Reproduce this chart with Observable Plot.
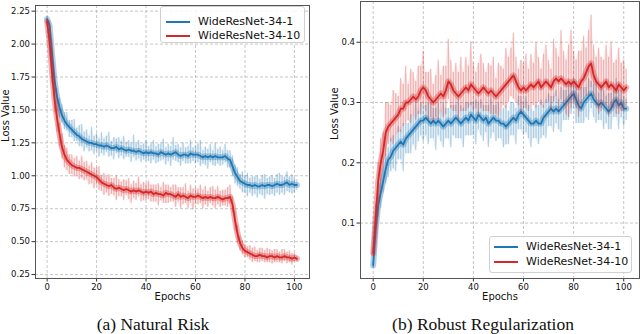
<!DOCTYPE html>
<html>
<head>
<meta charset="utf-8">
<script src="https://cdn.jsdelivr.net/npm/d3@7"></script>
<script src="https://cdn.jsdelivr.net/npm/@observablehq/plot@0.6"></script>
<style>
  body { margin: 0; background: #fff; }
  #wrap { position: relative; width: 640px; height: 334px; font-family: "DejaVu Sans", sans-serif; }
  .panel { position: absolute; top: 0; }
  .legend { position: absolute; background: rgba(255,255,255,0.85); border: 1px solid #d0d0d0; border-radius: 3px; box-sizing: border-box; }
  .legend .row { position: absolute; left: 0; height: 14px; font-size: 11px; line-height: 14px; color: #111; white-space: nowrap; }
  .legend .sw { position: absolute; top: 6px; height: 2px; }
  .caption { position: absolute; font-family: "Liberation Serif", serif; font-size: 17.5px; color: #111; white-space: nowrap; transform: translateX(-50%); }
</style>
</head>
<body>
<div id="wrap">
  <div id="pa" class="panel" style="left:0"></div>
  <div id="pb" class="panel" style="left:320px"></div>
</div>
<script>
const seriesNames = ["WideResNet-34-1", "WideResNet-34-10"];
const seriesColors = ["#1f77b4", "#d62728"];
const epochs = d3.range(0, 102);
const xTicks = [0, 20, 40, 60, 80, 100];
const yTicksA = [0.25, 0.5, 0.75, 1.0, 1.25, 1.5, 1.75, 2.0, 2.25];
const yTicksB = [0.1, 0.2, 0.3, 0.4];
const xLabel = "Epochs";
const yLabel = "Loss Value";
const captions = ["(a) Natural Risk", "(b) Robust Regularization"];

// Panel (a): natural risk
const naturalBlueMean = [2.19,2.14,1.92,1.72,1.60,1.52,1.46,1.42,1.39,1.37,
1.35,1.33,1.31,1.30,1.28,1.27,1.26,1.25,1.25,1.24,
1.24,1.23,1.23,1.22,1.23,1.22,1.21,1.21,1.22,1.20,
1.21,1.20,1.19,1.20,1.19,1.19,1.18,1.19,1.18,1.17,
1.18,1.17,1.18,1.17,1.17,1.16,1.18,1.17,1.16,1.17,
1.16,1.17,1.18,1.16,1.15,1.16,1.16,1.15,1.17,1.16,
1.16,1.16,1.15,1.14,1.15,1.14,1.15,1.14,1.15,1.14,
1.14,1.14,1.15,1.13,1.12,1.07,1.02,0.99,0.96,0.95,
0.94,0.93,0.93,0.92,0.93,0.92,0.92,0.93,0.92,0.93,
0.93,0.92,0.93,0.94,0.93,0.93,0.94,0.95,0.93,0.94,
0.93,0.93];
const naturalBlueUp = [0.02,0.03,0.05,0.06,0.06,0.07,0.08,0.06,0.09,0.05,
0.07,0.10,0.05,0.08,0.11,0.06,0.09,0.05,0.12,0.06,
0.08,0.05,0.10,0.06,0.07,0.11,0.05,0.08,0.06,0.09,
0.05,0.10,0.06,0.07,0.05,0.12,0.06,0.08,0.05,0.07,
0.09,0.05,0.06,0.10,0.05,0.08,0.06,0.11,0.05,0.07,
0.06,0.12,0.05,0.08,0.06,0.09,0.05,0.07,0.10,0.05,
0.06,0.08,0.12,0.05,0.07,0.06,0.09,0.05,0.10,0.06,
0.08,0.05,0.09,0.06,0.07,0.08,0.06,0.07,0.05,0.08,
0.06,0.09,0.05,0.07,0.06,0.08,0.05,0.07,0.09,0.05,
0.06,0.08,0.05,0.07,0.09,0.06,0.05,0.08,0.06,0.07,
0.05,0.04];
const naturalBlueDown = [0.02,0.04,0.06,0.07,0.06,0.08,0.06,0.07,0.05,0.08,
0.06,0.07,0.05,0.08,0.06,0.09,0.05,0.07,0.06,0.08,
0.05,0.09,0.06,0.07,0.05,0.08,0.06,0.09,0.05,0.07,
0.06,0.08,0.05,0.06,0.09,0.05,0.07,0.06,0.08,0.05,
0.07,0.06,0.09,0.05,0.08,0.06,0.07,0.05,0.08,0.06,
0.09,0.05,0.07,0.06,0.08,0.05,0.07,0.06,0.08,0.05,
0.07,0.06,0.08,0.05,0.07,0.09,0.05,0.06,0.08,0.05,
0.07,0.06,0.05,0.07,0.06,0.07,0.08,0.07,0.06,0.08,
0.07,0.09,0.06,0.08,0.07,0.09,0.06,0.08,0.10,0.07,
0.08,0.06,0.09,0.07,0.08,0.06,0.09,0.07,0.06,0.08,
0.06,0.04];
const naturalRedMean = [2.17,2.02,1.78,1.58,1.44,1.32,1.22,1.16,1.12,1.10,
1.08,1.07,1.06,1.06,1.05,1.04,1.03,1.02,1.01,1.00,
0.99,0.97,0.95,0.94,0.93,0.92,0.93,0.91,0.90,0.91,
0.90,0.89,0.90,0.89,0.88,0.89,0.88,0.89,0.88,0.87,
0.88,0.87,0.88,0.86,0.87,0.86,0.86,0.85,0.87,0.86,
0.86,0.85,0.84,0.86,0.84,0.85,0.84,0.83,0.85,0.84,
0.84,0.85,0.84,0.83,0.84,0.83,0.84,0.83,0.83,0.84,
0.83,0.82,0.83,0.83,0.84,0.78,0.66,0.56,0.49,0.45,
0.43,0.42,0.41,0.40,0.39,0.39,0.40,0.39,0.39,0.38,
0.39,0.39,0.38,0.39,0.38,0.38,0.39,0.38,0.38,0.37,
0.38,0.37];
const naturalRedUp = [0.02,0.05,0.07,0.08,0.09,0.08,0.10,0.07,0.09,0.06,
0.08,0.06,0.09,0.05,0.10,0.06,0.08,0.05,0.09,0.06,
0.07,0.10,0.05,0.08,0.06,0.09,0.05,0.07,0.10,0.06,
0.05,0.08,0.06,0.09,0.05,0.07,0.06,0.10,0.05,0.08,
0.06,0.09,0.05,0.07,0.06,0.08,0.05,0.10,0.06,0.07,
0.05,0.08,0.09,0.05,0.07,0.06,0.10,0.05,0.08,0.06,
0.07,0.05,0.09,0.06,0.08,0.05,0.07,0.09,0.06,0.08,
0.05,0.07,0.06,0.08,0.09,0.06,0.07,0.06,0.05,0.06,
0.05,0.04,0.06,0.05,0.07,0.04,0.05,0.06,0.04,0.07,
0.05,0.04,0.06,0.05,0.04,0.06,0.05,0.04,0.05,0.04,
0.03,0.02];
const naturalRedDown = [0.02,0.05,0.08,0.10,0.11,0.10,0.09,0.10,0.08,0.09,
0.07,0.08,0.06,0.09,0.07,0.08,0.06,0.09,0.07,0.10,
0.06,0.08,0.07,0.09,0.06,0.08,0.07,0.06,0.09,0.07,
0.06,0.08,0.05,0.07,0.09,0.06,0.07,0.05,0.08,0.06,
0.07,0.05,0.08,0.06,0.07,0.09,0.05,0.06,0.08,0.07,
0.06,0.05,0.08,0.06,0.09,0.07,0.05,0.08,0.06,0.10,
0.06,0.07,0.05,0.08,0.06,0.07,0.05,0.06,0.08,0.06,
0.07,0.05,0.06,0.07,0.05,0.06,0.08,0.07,0.06,0.05,
0.05,0.04,0.05,0.06,0.04,0.05,0.06,0.04,0.05,0.04,
0.05,0.06,0.04,0.05,0.04,0.05,0.04,0.05,0.04,0.05,
0.03,0.02];

// Panel (b): robust regularization
const robustBlueMean = [0.03,0.09,0.13,0.15,0.17,0.19,0.205,0.21,0.22,0.225,
0.23,0.235,0.23,0.24,0.245,0.25,0.255,0.26,0.265,0.27,
0.27,0.275,0.27,0.265,0.27,0.265,0.27,0.265,0.26,0.265,
0.27,0.265,0.27,0.275,0.27,0.265,0.27,0.275,0.27,0.28,
0.275,0.27,0.28,0.275,0.27,0.275,0.265,0.27,0.275,0.27,
0.27,0.265,0.265,0.26,0.265,0.27,0.275,0.27,0.28,0.285,
0.28,0.275,0.27,0.265,0.265,0.27,0.265,0.265,0.275,0.28,
0.285,0.29,0.285,0.29,0.285,0.29,0.295,0.30,0.305,0.31,
0.315,0.305,0.295,0.29,0.30,0.305,0.31,0.315,0.305,0.30,
0.295,0.30,0.295,0.29,0.285,0.29,0.30,0.305,0.295,0.30,
0.29,0.29];
const robustBlueUp = [0.005,0.01,0.015,0.02,0.02,0.025,0.02,0.03,0.025,0.02,
0.03,0.02,0.035,0.025,0.02,0.03,0.025,0.04,0.02,0.03,
0.025,0.02,0.03,0.035,0.02,0.025,0.03,0.02,0.04,0.025,
0.02,0.03,0.025,0.02,0.035,0.03,0.02,0.025,0.03,0.02,
0.025,0.035,0.02,0.03,0.025,0.02,0.03,0.04,0.02,0.025,
0.03,0.02,0.025,0.035,0.02,0.03,0.025,0.02,0.03,0.025,
0.02,0.035,0.025,0.03,0.02,0.025,0.03,0.04,0.02,0.025,
0.03,0.02,0.025,0.03,0.02,0.035,0.025,0.02,0.03,0.02,
0.025,0.03,0.02,0.035,0.025,0.02,0.03,0.02,0.025,0.035,
0.02,0.03,0.025,0.02,0.03,0.025,0.02,0.035,0.025,0.02,
0.02,0.015];
const robustBlueDown = [0.005,0.015,0.02,0.025,0.02,0.025,0.03,0.025,0.03,0.04,
0.025,0.03,0.045,0.025,0.03,0.035,0.025,0.04,0.03,0.025,
0.035,0.03,0.04,0.025,0.03,0.045,0.025,0.03,0.035,0.025,
0.03,0.04,0.025,0.035,0.03,0.025,0.045,0.03,0.025,0.035,
0.03,0.04,0.025,0.03,0.035,0.025,0.04,0.03,0.025,0.035,
0.03,0.025,0.04,0.03,0.035,0.025,0.03,0.04,0.025,0.03,
0.035,0.025,0.03,0.04,0.025,0.03,0.035,0.025,0.03,0.04,
0.025,0.03,0.035,0.025,0.03,0.04,0.025,0.03,0.035,0.03,
0.025,0.04,0.03,0.025,0.035,0.03,0.04,0.025,0.03,0.035,
0.025,0.03,0.04,0.025,0.03,0.035,0.025,0.03,0.04,0.025,
0.03,0.02];
const robustRedMean = [0.05,0.11,0.17,0.20,0.22,0.25,0.26,0.265,0.27,0.275,
0.28,0.29,0.29,0.30,0.30,0.305,0.31,0.305,0.31,0.32,
0.325,0.32,0.31,0.305,0.30,0.305,0.31,0.315,0.31,0.32,
0.335,0.33,0.32,0.315,0.31,0.315,0.32,0.325,0.32,0.33,
0.325,0.32,0.315,0.32,0.325,0.32,0.315,0.32,0.315,0.31,
0.315,0.32,0.325,0.33,0.335,0.34,0.345,0.335,0.325,0.32,
0.325,0.32,0.325,0.33,0.325,0.33,0.335,0.325,0.33,0.335,
0.33,0.325,0.335,0.34,0.335,0.34,0.335,0.33,0.335,0.33,
0.335,0.33,0.325,0.335,0.34,0.35,0.36,0.365,0.345,0.335,
0.33,0.325,0.33,0.335,0.325,0.33,0.325,0.32,0.33,0.325,
0.32,0.325];
const robustRedUp = [0.005,0.02,0.03,0.04,0.03,0.05,0.04,0.03,0.05,0.04,
0.03,0.05,0.04,0.06,0.03,0.05,0.04,0.03,0.05,0.04,
0.06,0.03,0.04,0.05,0.03,0.04,0.06,0.03,0.05,0.04,
0.07,0.04,0.03,0.05,0.04,0.06,0.03,0.05,0.04,0.07,
0.04,0.03,0.05,0.06,0.04,0.03,0.05,0.04,0.06,0.03,
0.05,0.04,0.03,0.06,0.04,0.05,0.07,0.04,0.03,0.05,
0.04,0.06,0.03,0.05,0.04,0.07,0.04,0.03,0.05,0.06,
0.04,0.03,0.07,0.05,0.04,0.08,0.05,0.04,0.06,0.09,
0.05,0.04,0.06,0.05,0.07,0.04,0.06,0.08,0.05,0.04,
0.06,0.05,0.04,0.06,0.05,0.07,0.04,0.05,0.06,0.04,
0.05,0.03];
const robustRedDown = [0.005,0.02,0.03,0.03,0.03,0.04,0.03,0.03,0.04,0.03,
0.03,0.04,0.03,0.035,0.03,0.04,0.03,0.035,0.03,0.04,
0.03,0.035,0.04,0.03,0.035,0.03,0.04,0.03,0.035,0.04,
0.03,0.04,0.035,0.03,0.04,0.03,0.035,0.04,0.03,0.035,
0.04,0.03,0.035,0.03,0.04,0.035,0.03,0.04,0.035,0.03,
0.04,0.035,0.03,0.04,0.035,0.03,0.04,0.035,0.03,0.04,
0.035,0.03,0.04,0.035,0.03,0.04,0.035,0.03,0.04,0.035,
0.03,0.04,0.035,0.03,0.05,0.035,0.04,0.05,0.06,0.04,
0.035,0.04,0.05,0.04,0.035,0.04,0.05,0.04,0.035,0.04,
0.05,0.04,0.035,0.04,0.05,0.04,0.035,0.04,0.05,0.04,
0.035,0.03];

function build(mean, up, down, name) {
  return epochs.map((e, i) => ({epoch: e, series: name, mean: mean[i], lo: mean[i] - down[i], hi: mean[i] + up[i]}));
}

const panelA = [
  build(naturalBlueMean, naturalBlueUp, naturalBlueDown, seriesNames[0]),
  build(naturalRedMean, naturalRedUp, naturalRedDown, seriesNames[1])
];
const panelB = [
  build(robustBlueMean, robustBlueUp, robustBlueDown, seriesNames[0]),
  build(robustRedMean, robustRedUp, robustRedDown, seriesNames[1])
];

function makePanel(series, opts) {
  const marks = [
    Plot.gridX(xTicks, {stroke: "#b8b8b8", strokeOpacity: 0.8, strokeDasharray: "3,2"}),
    Plot.gridY(opts.yTicks, {stroke: "#b8b8b8", strokeOpacity: 0.8, strokeDasharray: "3,2"}),
  ];
  series.forEach((d, k) => {
    const c = seriesColors[k];
    marks.push(Plot.areaY(d, {x: "epoch", y1: "lo", y2: "hi", fill: c, fillOpacity: 0.1}));
    marks.push(Plot.ruleX(d, {x: "epoch", y1: "lo", y2: "hi", stroke: c, strokeOpacity: 0.3, strokeWidth: 1.2}));
    marks.push(Plot.lineY(d, {x: "epoch", y: "mean", stroke: c, strokeOpacity: 0.35, strokeWidth: 6}));
    marks.push(Plot.lineY(d, {x: "epoch", y: "mean", stroke: c, strokeWidth: 1.8}));
  });
  marks.push(
    Plot.axisX(xTicks, {tickSize: 3.5, fontSize: 8.5, tickPadding: 2, label: null, stroke: "#333", fill: "#111"}),
    Plot.axisY(opts.yTicks, {tickSize: 3.5, fontSize: 8.5, tickPadding: 2, tickFormat: opts.fmt, label: null, stroke: "#333", fill: "#111"}),
    Plot.text([xLabel], {frameAnchor: "bottom", lineAnchor: "middle", dy: 18.5, fontSize: 10, fill: "#111"}),
    Plot.text([yLabel], {frameAnchor: "left", rotate: -90, lineAnchor: "middle", dx: opts.ylabelDx, fontSize: 10, fill: "#111"}),
    Plot.frame({stroke: "#555", strokeWidth: 1})
  );
  return Plot.plot({
    width: 320,
    height: 310,
    marginLeft: opts.ml,
    marginRight: opts.mr,
    marginTop: opts.mt,
    marginBottom: 32,
    style: {fontFamily: "DejaVu Sans, sans-serif", fontSize: "10px", background: "transparent", overflow: "visible"},
    x: {domain: opts.xd},
    y: {domain: opts.yd},
    marks
  });
}

const wrap = document.getElementById("wrap");
document.getElementById("pa").append(makePanel(panelA, {
  ml: 35, mr: 11, mt: 5, xd: [-4.7, 106.1], yd: [0.22, 2.293], yTicks: yTicksA, fmt: d3.format(".2f"), ylabelDx: -29.5
}));
document.getElementById("pb").append(makePanel(panelB, {
  ml: 40, mr: 1, mt: 1, xd: [-5.07, 106.3], yd: [0.008, 0.4676], yTicks: yTicksB, fmt: d3.format(".1f"), ylabelDx: -25.5
}));

function addLegend(left, top, width, height, lineX, lineW, textX, rowYs) {
  const box = document.createElement("div");
  box.className = "legend";
  Object.assign(box.style, {left: left + "px", top: top + "px", width: width + "px", height: height + "px"});
  seriesNames.forEach((name, k) => {
    const sw = document.createElement("div");
    sw.className = "sw";
    Object.assign(sw.style, {left: lineX + "px", width: lineW + "px", top: (rowYs[k] - 1) + "px", background: seriesColors[k]});
    box.append(sw);
    const row = document.createElement("div");
    row.className = "row";
    row.textContent = name;
    Object.assign(row.style, {left: textX + "px", top: (rowYs[k] - 7) + "px"});
    box.append(row);
  });
  wrap.append(box);
}
addLegend(160, 6, 145, 37, 5, 24, 37, [15, 29]);
addLegend(489, 236, 143, 37, 4, 24, 36, [10, 25]);

captions.forEach((c, k) => {
  const el = document.createElement("div");
  el.className = "caption";
  el.textContent = c;
  Object.assign(el.style, {left: (k === 0 ? 153 : 483) + "px", top: "314px"});
  wrap.append(el);
});
</script>
</body>
</html>
